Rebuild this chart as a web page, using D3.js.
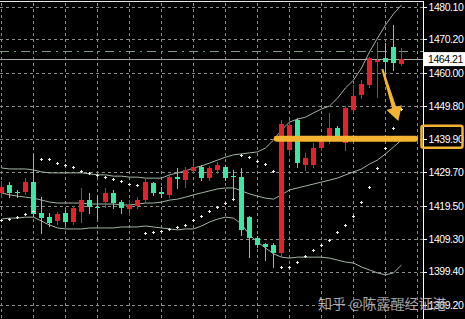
<!DOCTYPE html>
<html>
<head>
<meta charset="utf-8">
<script src="https://cdn.jsdelivr.net/npm/d3@7/dist/d3.min.js"></script>
<style>
  html, body { margin: 0; padding: 0; background: #000; overflow: hidden; }
  svg { display: block; }
</style>
</head>
<body>
<svg id="chart" width="465" height="319"></svg>
<script>
// candle data, one entry per bar (oldest first)
const opens  = [1423.4, 1425.8, 1423.7, 1423.7, 1426.7, 1417.3, 1416.0, 1414.8, 1417.3, 1414.5,
                1417.6, 1421.2, 1419.1, 1420.6, 1423.4, 1420.6, 1418.5, 1419.4, 1421.2, 1426.4,
                1423.7, 1422.8, 1428.2, 1427.3, 1430.1, 1431.3, 1427.9, 1430.4, 1431.3, 1428.5,
                1428.2, 1416.0, 1409.6, 1407.8, 1407.5, 1405.1, 1436.5, 1445.6, 1431.9, 1431.9,
                1437.1, 1440.4, 1443.2, 1438.6, 1448.7, 1453.3, 1456.3, 1463.3, 1464.5, 1467.9,
                1462.7];
const highs  = [1427.0, 1426.7, 1424.3, 1427.9, 1435.3, 1422.1, 1417.3, 1417.6, 1418.2, 1419.4,
                1424.9, 1423.4, 1422.8, 1424.9, 1424.3, 1421.2, 1421.2, 1422.1, 1427.9, 1426.7,
                1425.2, 1428.9, 1431.0, 1431.3, 1433.4, 1431.9, 1431.6, 1432.8, 1431.9, 1430.4,
                1431.0, 1416.3, 1410.3, 1408.1, 1408.1, 1445.6, 1445.6, 1446.2, 1435.6, 1438.6,
                1441.1, 1447.8, 1443.8, 1449.9, 1456.3, 1457.8, 1464.9, 1469.4, 1469.1, 1474.6,
                1467.6];
const lows   = [1422.1, 1422.1, 1422.1, 1423.1, 1416.3, 1411.2, 1413.3, 1413.9, 1413.9, 1413.9,
                1414.5, 1417.3, 1415.7, 1419.1, 1418.8, 1417.3, 1416.7, 1418.8, 1420.6, 1422.8,
                1422.1, 1422.1, 1424.9, 1425.2, 1429.5, 1427.3, 1427.3, 1429.5, 1427.3, 1421.2,
                1410.6, 1403.8, 1406.9, 1402.9, 1400.8, 1404.1, 1435.0, 1431.3, 1430.4, 1431.3,
                1436.5, 1438.6, 1440.1, 1436.5, 1448.1, 1452.3, 1455.7, 1452.7, 1458.8, 1460.9,
                1462.4];
const closes = [1425.2, 1423.4, 1423.4, 1426.7, 1417.0, 1415.7, 1414.2, 1417.0, 1414.5, 1418.8,
                1421.2, 1419.1, 1418.8, 1423.4, 1420.3, 1418.8, 1419.7, 1421.2, 1426.7, 1423.4,
                1423.1, 1428.2, 1427.6, 1430.4, 1431.3, 1427.9, 1431.0, 1431.9, 1427.9, 1428.2,
                1412.1, 1409.6, 1407.5, 1406.9, 1405.1, 1444.4, 1444.1, 1432.5, 1434.0, 1437.1,
                1440.1, 1443.2, 1440.4, 1449.3, 1453.0, 1456.6, 1464.5, 1463.9, 1463.3, 1463.0,
                1464.2];

// Bollinger bands
const upperBand  = [1431.0, 1430.7, 1430.7, 1430.7, 1430.4, 1429.8, 1429.5, 1429.5, 1429.5, 1429.5,
                    1429.5, 1429.2, 1428.9, 1428.9, 1428.5, 1428.5, 1428.2, 1428.2, 1427.9, 1427.9,
                    1427.9, 1428.9, 1429.5, 1430.1, 1431.0, 1431.6, 1432.5, 1433.4, 1434.3, 1435.0,
                    1435.3, 1435.6, 1435.9, 1437.1, 1439.5, 1442.6, 1445.0, 1445.9, 1446.5, 1447.8,
                    1449.0, 1449.9, 1452.3, 1455.4, 1457.8, 1461.5, 1466.4, 1470.6, 1474.6, 1478.0,
                    1480.7];
const middleBand = [1423.4, 1422.8, 1422.4, 1422.1, 1421.8, 1421.2, 1420.6, 1420.3, 1420.3, 1420.3,
                    1420.3, 1420.0, 1420.0, 1420.0, 1420.0, 1419.7, 1419.7, 1420.0, 1420.3, 1420.3,
                    1420.6, 1421.2, 1421.5, 1422.1, 1422.8, 1423.4, 1424.0, 1424.6, 1424.9, 1424.9,
                    1424.0, 1423.1, 1422.4, 1421.8, 1421.5, 1422.8, 1424.3, 1424.9, 1425.5, 1426.1,
                    1426.7, 1427.3, 1427.9, 1428.9, 1429.8, 1430.7, 1432.2, 1433.4, 1435.3, 1437.4,
                    1439.5];
const lowerBand  = [1415.4, 1415.7, 1415.7, 1416.0, 1416.0, 1414.8, 1413.6, 1412.7, 1412.4, 1412.4,
                    1412.4, 1412.7, 1412.7, 1412.7, 1412.7, 1413.0, 1413.0, 1413.0, 1413.3, 1413.0,
                    1412.7, 1412.4, 1412.1, 1412.4, 1412.4, 1413.3, 1414.5, 1415.4, 1416.0, 1415.7,
                    1413.9, 1410.6, 1408.4, 1406.6, 1404.8, 1403.8, 1403.5, 1403.8, 1403.8, 1403.8,
                    1403.8, 1403.5, 1402.9, 1402.3, 1402.0, 1400.8, 1399.9, 1399.0, 1398.4, 1399.0,
                    1401.4];

// parabolic SAR
const sar = [1415.1, 1415.4, 1416.0, 1417.0, 1417.9, 1433.7, 1433.7, 1432.5, 1431.9, 1431.3,
             1430.1, 1429.5, 1428.9, 1428.2, 1427.6, 1427.0, 1426.1, 1425.8, 1411.2, 1411.5,
             1411.8, 1412.4, 1413.0, 1413.6, 1415.1, 1416.3, 1417.9, 1419.1, 1420.3, 1421.5,
             1435.0, 1434.3, 1433.1, 1432.2, 1430.1, 1400.8, 1400.8, 1402.3, 1404.1, 1406.0,
             1407.5, 1409.0, 1411.5, 1413.6, 1416.3, 1420.6, 1425.2, 1431.0, 1437.1, 1443.2,
             1449.0];

const priceTicks = [1480.10, 1470.20, 1460.00, 1449.80, 1439.90, 1429.70, 1419.50, 1409.30, 1399.40, 1389.20];
const bidPrice = 1464.21;
const askPrice = 1466.7;
const supportPrice = 1439.90;

const width = 465, height = 319, plotRight = 423;
const RED = '#e3232b', GREEN = '#3fe6a3', GOLD = '#f4b431';
const labelFont = '"Liberation Sans", Arial, sans-serif';

const svg = d3.select('#chart');
svg.append('rect').attr('width', width).attr('height', height).attr('fill', '#000');

const bars = d3.range(opens.length).map(i => ({
  i, o: opens[i], h: highs[i], l: lows[i], c: closes[i]
}));

const x = d3.scaleLinear().domain([0, 50]).range([1.5, 401.5]);
const y = d3.scaleLinear().domain([1389.2, 1480.1]).range([305, 7]);
const py = v => Math.round(y(v)) + 0.5;

// grid
const grid = svg.append('g').attr('stroke', '#8a8a8a').attr('stroke-width', 1)
  .attr('stroke-dasharray', '3,3').attr('shape-rendering', 'crispEdges');
grid.selectAll('line.h').data(priceTicks).enter().append('line')
  .attr('x1', 0).attr('x2', plotRight).attr('y1', py).attr('y2', py);
grid.selectAll('line.v').data(d3.range(0, 53, 4)).enter().append('line')
  .attr('x1', d => x(d)).attr('x2', d => x(d)).attr('y1', 3).attr('y2', height);

// ask (dash-dot) and bid lines
svg.append('line').attr('x1', 0).attr('x2', plotRight)
  .attr('y1', py(askPrice)).attr('y2', py(askPrice))
  .attr('stroke', '#7f9a82').attr('stroke-dasharray', '9,5,2,5')
  .attr('shape-rendering', 'crispEdges');
svg.append('line').attr('x1', 0).attr('x2', plotRight)
  .attr('y1', py(bidPrice)).attr('y2', py(bidPrice))
  .attr('stroke', '#a9a9a9').attr('shape-rendering', 'crispEdges');

// bollinger bands
const bandLine = d3.line().x((d, i) => x(i)).y(d => y(d));
svg.append('g').attr('fill', 'none').attr('stroke', '#a4b6a4').attr('stroke-width', 1)
  .selectAll('path').data([upperBand, middleBand, lowerBand]).enter().append('path')
  .attr('d', bandLine);

// candles
const candle = svg.append('g').attr('shape-rendering', 'crispEdges')
  .selectAll('g').data(bars).enter().append('g');
candle.append('line')
  .attr('x1', d => x(d.i)).attr('x2', d => x(d.i))
  .attr('y1', d => Math.round(y(d.h))).attr('y2', d => Math.round(y(d.l)) + 1)
  .attr('stroke', d => d.c >= d.o ? RED : GREEN);
candle.append('rect')
  .attr('x', d => x(d.i) - 2.5).attr('width', 5)
  .attr('y', d => Math.round(y(Math.max(d.o, d.c))))
  .attr('height', d => Math.max(1, Math.round(y(Math.min(d.o, d.c))) - Math.round(y(Math.max(d.o, d.c)))))
  .attr('fill', d => d.c >= d.o ? RED : GREEN);

// SAR crosses
svg.append('g').attr('stroke', '#e6efe6').attr('stroke-width', 1).attr('shape-rendering', 'crispEdges')
  .selectAll('path').data(sar).enter().append('path')
  .attr('d', (d, i) => `M${x(i) - 1.5},${py(d)}h3M${x(i)},${py(d) - 1.5}v3`);

// support line and arrow
svg.append('line')
  .attr('x1', x(34.4)).attr('x2', x(51.7))
  .attr('y1', y(supportPrice)).attr('y2', y(supportPrice))
  .attr('stroke', GOLD).attr('stroke-width', 6).attr('stroke-linecap', 'round');

const a0 = [x(47.6), y(1461.2)], a1 = [x(49.6), y(1445.3)];
const ang = Math.atan2(a1[1] - a0[1], a1[0] - a0[0]);
const nx = -Math.sin(ang), ny = Math.cos(ang);
const headLen = 14, headW = 8;
const hb = [a1[0] - Math.cos(ang) * headLen, a1[1] - Math.sin(ang) * headLen];
svg.append('path')
  .attr('fill', GOLD)
  .attr('d', [
    'M', a0[0] + nx * 1, a0[1] + ny * 1,
    'L', hb[0] + nx * 2.2, hb[1] + ny * 2.2,
    'L', hb[0] + nx * headW, hb[1] + ny * headW,
    'L', a1[0], a1[1],
    'L', hb[0] - nx * headW, hb[1] - ny * headW,
    'L', hb[0] - nx * 2.2, hb[1] - ny * 2.2,
    'L', a0[0] - nx * 1, a0[1] - ny * 1, 'Z'
  ].join(' '));

// frame
svg.append('line').attr('x1', 0).attr('x2', plotRight + 0.5).attr('y1', 1.5).attr('y2', 1.5)
  .attr('stroke', '#e8e8e8').attr('shape-rendering', 'crispEdges');

// price axis
const axis = svg.append('g').attr('transform', `translate(${plotRight + 0.5},0)`)
  .call(d3.axisRight(y).tickValues(priceTicks).tickFormat(d3.format('.2f')).tickSize(3).tickPadding(2));
axis.select('.domain').remove();
axis.selectAll('.tick line').attr('stroke', '#fff').attr('shape-rendering', 'crispEdges');
axis.selectAll('.tick text').attr('fill', '#fff')
  .style('font-family', labelFont).style('font-size', '10.5px').style('letter-spacing', '-0.45px');
svg.append('line').attr('x1', plotRight + 0.5).attr('x2', plotRight + 0.5).attr('y1', 1).attr('y2', height)
  .attr('stroke', '#fff').attr('shape-rendering', 'crispEdges');

// bid label
svg.append('rect').attr('x', plotRight + 1).attr('y', y(bidPrice) - 7).attr('width', width - plotRight - 1).attr('height', 14)
  .attr('fill', '#fff');
svg.append('text').attr('x', plotRight + 5).attr('y', y(bidPrice)).attr('dy', '0.35em')
  .attr('fill', '#000').style('font-family', labelFont).style('font-size', '10.5px').style('letter-spacing', '-0.45px')
  .text(d3.format('.2f')(bidPrice));

// highlight box round the support label
svg.append('rect').attr('x', plotRight - 1.5).attr('y', y(supportPrice) - 13).attr('width', 41).attr('height', 22)
  .attr('rx', 2).attr('fill', 'none').attr('stroke', GOLD).attr('stroke-width', 2.5);

// watermark
svg.append('text').attr('x', 318).attr('y', 309)
  .attr('fill', '#fff').attr('fill-opacity', 0.85)
  .attr('stroke', '#000').attr('stroke-opacity', 0.4).attr('stroke-width', 0.6)
  .style('font-family', '"Noto Sans CJK SC", sans-serif').style('font-size', '14px')
  .text('知乎 @陈露醒经证港');
</script>
</body>
</html>
